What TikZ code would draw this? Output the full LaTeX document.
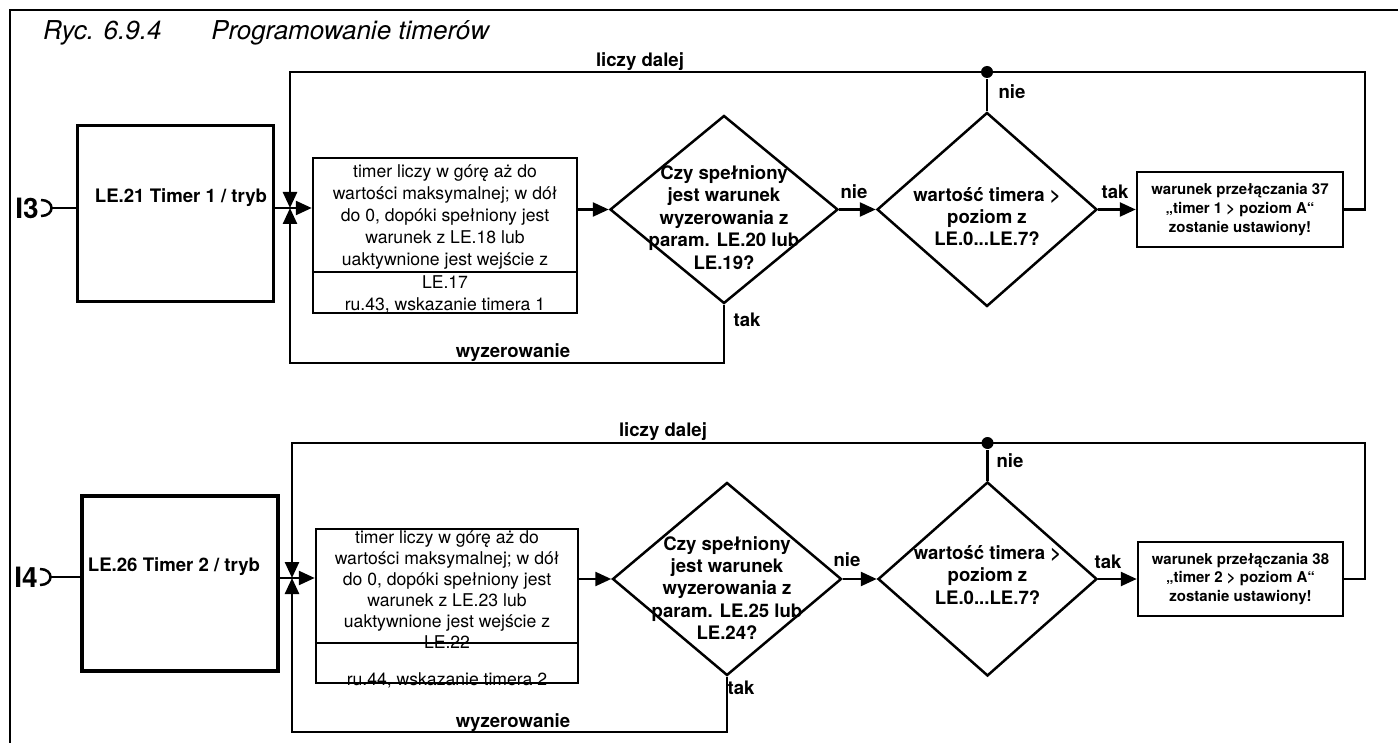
\documentclass[tikz,border=0pt]{standalone}
\usepackage{fontspec}
\setmainfont{TeX Gyre Heros}
\usetikzlibrary{arrows.meta,calc,positioning,shapes.geometric}

\begin{document}
\begin{tikzpicture}[x=0.5pt,y=-0.5pt,line width=1.25pt,
  arr/.style={-{Triangle[length=8pt,width=7pt]}},
  modebox/.style={draw,line width=1.6pt,minimum width=98pt,minimum height=88pt,inner sep=0pt},
  modetext/.style={font=\fontsize{9.3}{11}\selectfont\bfseries,inner sep=0pt},
  cntbox/.style={draw,minimum width=132pt,minimum height=77.5pt,inner sep=0pt},
  cnttext/.style={align=center,font=\fontsize{8.8}{11.1}\selectfont,inner sep=0pt},
  dia/.style={draw,diamond,inner sep=0pt},
  diatext/.style={align=center,font=\fontsize{9.3}{11.2}\selectfont\bfseries,inner sep=0pt},
  resbox/.style={draw,minimum width=103pt,minimum height=37.5pt,align=center,inner sep=0pt,
    font=\fontsize{7.5}{9.4}\selectfont\bfseries},
  lbl/.style={font=\fontsize{9.3}{11}\selectfont\bfseries,inner sep=0pt},
  inp/.style={font=\fontsize{14}{14}\selectfont\bfseries,inner sep=0pt,anchor=east},
  dot/.style={circle,fill,inner sep=0pt,minimum size=6pt},
  ttl/.style={anchor=base west,font=\fontsize{13}{13}\selectfont\itshape,inner sep=0pt}]
\useasboundingbox (0,0) rectangle (1398,743);
\draw[line width=1.2pt] (1398,10) -| (10,743);
\node[ttl] (ttl1) at (42,40) {Ryc. 6.9.4};
\node[ttl] (ttl2) at (210,40) {Programowanie timerów};

% timer 1
\node[inp] (i1) at (40,208) {I3};
\coordinate (i1c) at ($(i1.east)+(11.5,0)$);
\draw ($(i1.east)+(1,-8)$) .. controls ($(i1.east)+(15,-8)$) and ($(i1.east)+(15,8)$) .. ($(i1.east)+(1,8)$);
\node[modebox] (b1) at (175.5,213.5) {};
\node[modetext] (b1t) at (181,198) {LE.21 Timer 1 / tryb};
\coordinate (j1) at (290,208);
\node[cntbox] (m1) at (445,235.5) {};
\coordinate (m1d) at (0,272);
\draw (m1.west |- m1d) -- (m1.east |- m1d);
\node[cnttext] (m1t) at (445,238.5) {timer liczy w górę aż do\\wartości maksymalnej; w dół\\do 0, dopóki spełniony jest\\warunek z LE.18 lub\\uaktywnione jest wejście z\\LE.17\\ru.43, wskazanie timera 1};
\node[dia,minimum width=114pt,minimum height=94pt] (d1) at (724,209.5) {};
\node[diatext] (d1t) at (724,217.5) {Czy spełniony\\jest warunek\\wyzerowania z\\param. LE.20 lub\\LE.19?};
\node[dia,minimum width=110pt,minimum height=97pt] (d2) at (987,209.5) {};
\node[diatext] (d2t) at (987,216.5) {wartość timera >\\poziom z\\LE.0...LE.7?};
\node[resbox] (r1) at (1240,209.5) {warunek przełączania 37\\„timer 1 > poziom A“\\zostanie ustawiony!};
\node[dot] (c1) at (987,72) {};
\coordinate (k1) at (1365,72);
\coordinate (w1) at (290,363);

\draw (i1c) -- (i1c -| b1.west);
\draw[arr] (b1.east |- j1) -- (j1 -| m1.west);
\draw[arr] (m1.east |- d1.west) -- (d1.west);
\draw[arr] (d1.east) -- (d2.west);
\draw[arr] (d2.east) -- (r1.west);
\draw (d2.north) -- (c1);
\draw[arr] (r1.east) -| (k1) -- (c1.center) -- (c1 -| j1) -- (j1);
\draw[arr] (d1.south) |- (w1) -- (j1);

\node[lbl] (ld1) at (640,62) {liczy dalej};
\node[lbl] (n1) at (854,192) {nie};
\node[lbl] (n2) at (1012,92) {nie};
\node[lbl] (t1) at (747,320) {tak};
\node[lbl] (t2) at (1115,192) {tak};
\node[lbl] (wz1) at (513,353) {wyzerowanie};

% timer 2
\node[inp] (i2) at (39,577) {I4};
\coordinate (i2c) at ($(i2.east)+(11.5,0)$);
\draw ($(i2.east)+(1,-8)$) .. controls ($(i2.east)+(15,-8)$) and ($(i2.east)+(15,8)$) .. ($(i2.east)+(1,8)$);
\node[modebox,minimum height=87.5pt] (b2) at (180,583.5) {};
\node[modetext] (b2t) at (174,567) {LE.26 Timer 2 / tryb};
\coordinate (j2) at (292,578);
\node[cntbox,minimum width=131pt,minimum height=77pt] (m2) at (447,606) {};
\coordinate (m2d) at (0,643);
\draw (m2.west |- m2d) -- (m2.east |- m2d);
\node[cnttext,font=\fontsize{8.8}{10.5}\selectfont] (m2t) at (447,609) {timer liczy w górę aż do\\wartości maksymalnej; w dół\\do 0, dopóki spełniony jest\\warunek z LE.23 lub\\uaktywnione jest wejście z\\LE.22\\[8pt]ru.44, wskazanie timera 2};
\node[dia,minimum width=114.5pt,minimum height=96.5pt] (d3) at (727,579) {};
\node[diatext] (d3t) at (727,588) {Czy spełniony\\jest warunek\\wyzerowania z\\param. LE.25 lub\\LE.24?};
\node[dia,minimum width=109.5pt,minimum height=97pt] (d4) at (987.5,579) {};
\node[diatext] (d4t) at (987.5,575) {wartość timera >\\poziom z\\LE.0...LE.7?};
\node[resbox,minimum width=102.5pt,minimum height=37pt,font=\fontsize{7.5}{9.25}\selectfont\bfseries] (r2) at (1240.5,579) {warunek przełączania 38\\„timer 2 > poziom A“\\zostanie ustawiony!};
\node[dot] (c2) at (987.5,443) {};
\coordinate (k2) at (1365,443);
\coordinate (w2) at (292,732);

\draw (i2c) -- (i2c -| b2.west);
\draw[arr] (b2.east |- j2) -- (j2 -| m2.west);
\draw[arr] (m2.east |- d3.west) -- (d3.west);
\draw[arr] (d3.east) -- (d4.west);
\draw[arr] (d4.east) -- (r2.west);
\draw (d4.north) -- (c2);
\draw[arr] (r2.east) -| (k2) -- (c2.center) -- (c2 -| j2) -- (j2);
\draw[arr] (d3.south) |- (w2) -- (j2);

\node[lbl] (ld2) at (663,432) {liczy dalej};
\node[lbl] (n3) at (847,560) {nie};
\node[lbl] (n4) at (1010,461) {nie};
\node[lbl] (t3) at (741,688) {tak};
\node[lbl] (t4) at (1108,562) {tak};
\node[lbl] (wz2) at (513,723) {wyzerowanie};
\end{tikzpicture}
\end{document}
